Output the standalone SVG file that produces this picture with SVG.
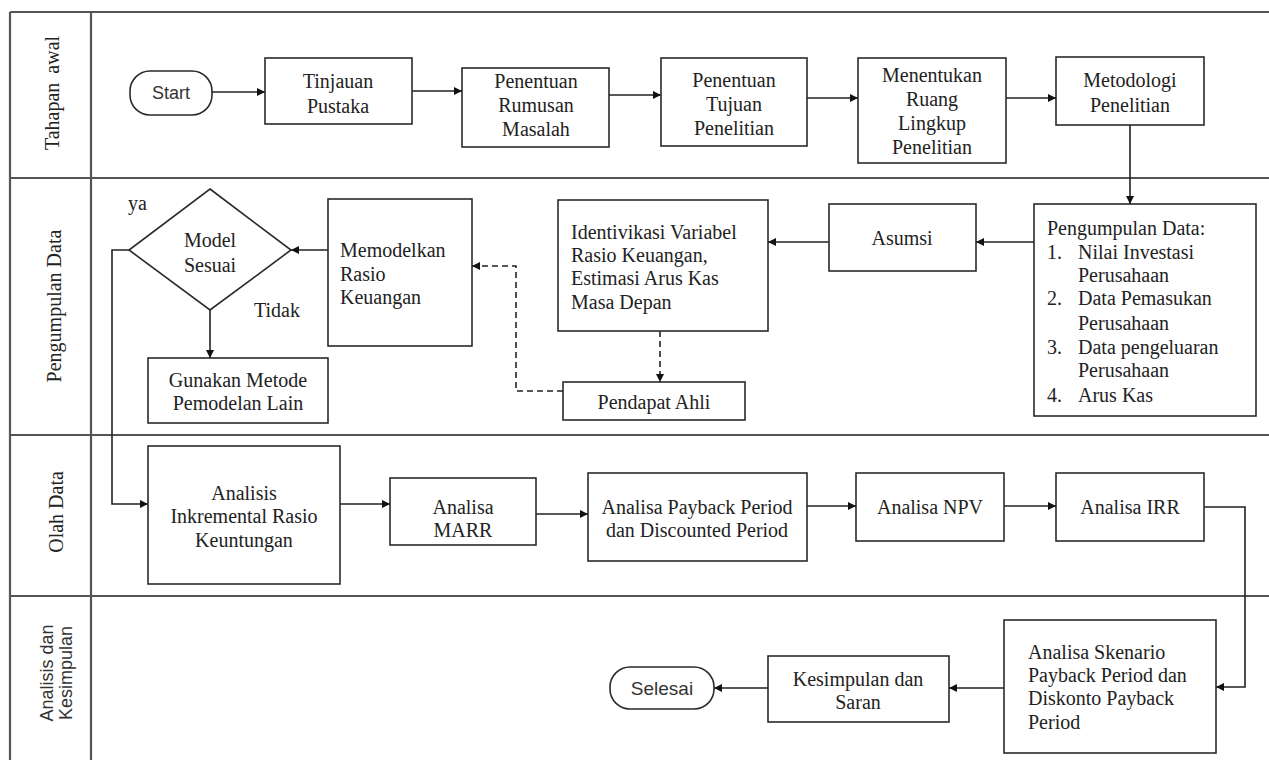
<svg xmlns="http://www.w3.org/2000/svg" width="1269" height="760" viewBox="0 0 1269 760">
<defs>
<style>
.box{fill:#fff;stroke:#2a2a2a;stroke-width:1.6}
.lane{stroke:#555;stroke-width:2.2;fill:none}
.t{font-family:"Liberation Serif","Times New Roman",serif;font-size:20px;fill:#222}
.c{text-anchor:middle}
.s{font-family:"Liberation Sans",Arial,sans-serif;fill:#333}
.conn{stroke:#222;stroke-width:1.6;fill:none}
.dash{stroke-dasharray:6 4}
</style>
<marker id="arr" viewBox="0 0 8 8" refX="8" refY="4" markerWidth="8" markerHeight="8" markerUnits="userSpaceOnUse" orient="auto">
<path d="M0,0 L8,4 L0,8 z" fill="#111"/>
</marker>
</defs>
<rect width="1269" height="760" fill="#fff"/>

<g id="lanes">
<line class="lane" x1="10" y1="12" x2="1269" y2="12"/>
<line class="lane" x1="10" y1="178" x2="1269" y2="178"/>
<line class="lane" x1="10" y1="435" x2="1269" y2="435"/>
<line class="lane" x1="10" y1="596" x2="1269" y2="596"/>
<line class="lane" x1="10" y1="12" x2="10" y2="760"/>
<line class="lane" x1="91" y1="12" x2="91" y2="760" stroke-width="1.6"/>
<text class="t c" transform="translate(59,93) rotate(-90)" word-spacing="4">Tahapan awal</text>
<text class="t c" transform="translate(61,306) rotate(-90)">Pengumpulan Data</text>
<text class="t c" transform="translate(63,512) rotate(-90)">Olah Data</text>
<text class="s c" font-size="18" transform="translate(53,673) rotate(-90)">Analisis dan</text>
<text class="s c" font-size="18" transform="translate(72,673) rotate(-90)">Kesimpulan</text>
</g>

<g id="connectors">
<path class="conn" marker-end="url(#arr)" d="M212,92 H265"/>
<path class="conn" marker-end="url(#arr)" d="M412,91 H462"/>
<path class="conn" marker-end="url(#arr)" d="M609,95 H661"/>
<path class="conn" marker-end="url(#arr)" d="M807,98 H858"/>
<path class="conn" marker-end="url(#arr)" d="M1006,98 H1056"/>
<path class="conn" marker-end="url(#arr)" d="M1130,125 V204"/>
<path class="conn" marker-end="url(#arr)" d="M1034,242 H976"/>
<path class="conn" marker-end="url(#arr)" d="M829,242 H768"/>
<path class="conn dash" marker-end="url(#arr)" d="M660,331 V382"/>
<path class="conn dash" marker-end="url(#arr)" d="M563,391 H516 V266 H472"/>
<path class="conn" marker-end="url(#arr)" d="M328,250 H291"/>
<path class="conn" marker-end="url(#arr)" d="M210,310 V358"/>
<path class="conn" marker-end="url(#arr)" d="M129,250 H112 V504 H148"/>
<path class="conn" marker-end="url(#arr)" d="M340,504 H390"/>
<path class="conn" marker-end="url(#arr)" d="M536,514 H588"/>
<path class="conn" marker-end="url(#arr)" d="M807,506 H856"/>
<path class="conn" marker-end="url(#arr)" d="M1004,506 H1056"/>
<path class="conn" marker-end="url(#arr)" d="M1204,507 H1245 V687 H1216"/>
<path class="conn" marker-end="url(#arr)" d="M1004,688 H949"/>
<path class="conn" marker-end="url(#arr)" d="M768,688 H714"/>
<text class="t" x="128" y="210">ya</text>
<text class="t c" x="277" y="317">Tidak</text>
</g>

<g id="start">
<rect class="box" x="130" y="71" width="82" height="44" rx="20"/>
<text class="s c" font-size="18" x="171" y="99">Start</text>
</g>
<g id="tinjauan">
<rect class="box" x="265" y="58" width="147" height="66"/>
<text class="t c" x="338" y="88">Tinjauan</text>
<text class="t c" x="338" y="113">Pustaka</text>
</g>
<g id="rumusan">
<rect class="box" x="462" y="68" width="147" height="79"/>
<text class="t c" x="536" y="88">Penentuan</text>
<text class="t c" x="536" y="112">Rumusan</text>
<text class="t c" x="536" y="136">Masalah</text>
</g>
<g id="tujuan">
<rect class="box" x="661" y="58" width="146" height="88"/>
<text class="t c" x="734" y="87">Penentuan</text>
<text class="t c" x="734" y="111">Tujuan</text>
<text class="t c" x="734" y="135">Penelitian</text>
</g>
<g id="ruang">
<rect class="box" x="858" y="58" width="148" height="105"/>
<text class="t c" x="932" y="82">Menentukan</text>
<text class="t c" x="932" y="106">Ruang</text>
<text class="t c" x="932" y="130">Lingkup</text>
<text class="t c" x="932" y="154">Penelitian</text>
</g>
<g id="metodologi">
<rect class="box" x="1056" y="57" width="148" height="68"/>
<text class="t c" x="1130" y="87">Metodologi</text>
<text class="t c" x="1130" y="112">Penelitian</text>
</g>

<g id="pengumpulan">
<rect class="box" x="1034" y="204" width="222" height="212"/>
<text class="t" x="1047" y="235">Pengumpulan Data:</text>
<text class="t" x="1047" y="259">1.</text><text class="t" x="1078" y="259">Nilai Investasi</text>
<text class="t" x="1078" y="282">Perusahaan</text>
<text class="t" x="1047" y="305">2.</text><text class="t" x="1078" y="305">Data Pemasukan</text>
<text class="t" x="1078" y="330">Perusahaan</text>
<text class="t" x="1047" y="354">3.</text><text class="t" x="1078" y="354">Data pengeluaran</text>
<text class="t" x="1078" y="377">Perusahaan</text>
<text class="t" x="1047" y="402">4.</text><text class="t" x="1078" y="402">Arus Kas</text>
</g>
<g id="asumsi">
<rect class="box" x="829" y="204" width="147" height="67"/>
<text class="t c" x="902" y="245">Asumsi</text>
</g>
<g id="identivikasi">
<rect class="box" x="558" y="200" width="210" height="131"/>
<text class="t" x="571" y="239">Identivikasi Variabel</text>
<text class="t" x="571" y="262">Rasio Keuangan,</text>
<text class="t" x="571" y="285">Estimasi Arus Kas</text>
<text class="t" x="571" y="309">Masa Depan</text>
</g>
<g id="pendapat">
<rect class="box" x="563" y="382" width="182" height="38"/>
<text class="t c" x="654" y="409">Pendapat Ahli</text>
</g>
<g id="memodelkan">
<rect class="box" x="328" y="199" width="144" height="147"/>
<text class="t" x="340" y="257">Memodelkan</text>
<text class="t" x="340" y="281">Rasio</text>
<text class="t" x="340" y="304">Keuangan</text>
</g>
<g id="model-sesuai">
<polygon class="box" points="210,189 291,250 210,310 129,250"/>
<text class="t c" x="210" y="247">Model</text>
<text class="t c" x="210" y="272">Sesuai</text>
</g>
<g id="gunakan">
<rect class="box" x="148" y="358" width="180" height="65"/>
<text class="t c" x="238" y="387">Gunakan Metode</text>
<text class="t c" x="238" y="410">Pemodelan Lain</text>
</g>

<g id="inkremental">
<rect class="box" x="148" y="446" width="192" height="138"/>
<text class="t c" x="244" y="500">Analisis</text>
<text class="t c" x="244" y="523">Inkremental Rasio</text>
<text class="t c" x="244" y="547">Keuntungan</text>
</g>
<g id="marr">
<rect class="box" x="390" y="478" width="146" height="67"/>
<text class="t c" x="463" y="514">Analisa</text>
<text class="t c" x="463" y="537">MARR</text>
</g>
<g id="payback">
<rect class="box" x="588" y="473" width="219" height="88"/>
<text class="t c" x="697" y="514">Analisa Payback Period</text>
<text class="t c" x="697" y="537">dan Discounted Period</text>
</g>
<g id="npv">
<rect class="box" x="856" y="473" width="148" height="68"/>
<text class="t c" x="930" y="514">Analisa NPV</text>
</g>
<g id="irr">
<rect class="box" x="1056" y="473" width="148" height="68"/>
<text class="t c" x="1130" y="514">Analisa IRR</text>
</g>

<g id="skenario">
<rect class="box" x="1004" y="620" width="212" height="133"/>
<text class="t" x="1028" y="659">Analisa Skenario</text>
<text class="t" x="1028" y="682">Payback Period dan</text>
<text class="t" x="1028" y="705">Diskonto Payback</text>
<text class="t" x="1028" y="729">Period</text>
</g>
<g id="kesimpulan">
<rect class="box" x="768" y="656" width="181" height="66"/>
<text class="t c" x="858" y="686">Kesimpulan dan</text>
<text class="t c" x="858" y="709">Saran</text>
</g>
<g id="selesai">
<rect class="box" x="610" y="667" width="104" height="42" rx="20"/>
<text class="s c" font-size="19" x="662" y="695">Selesai</text>
</g>
</svg>
